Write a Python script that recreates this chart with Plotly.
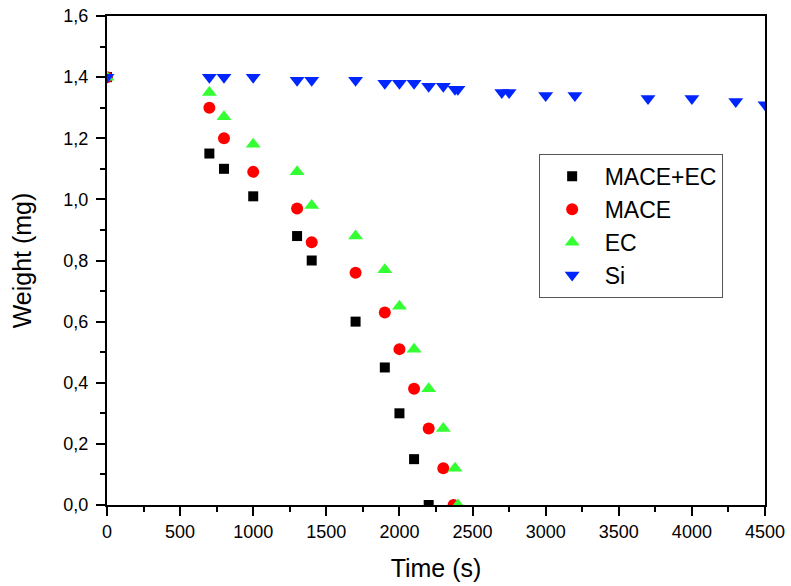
import plotly.graph_objects as go

# Weight loss over time for four sample types
mace_ec_t = [0, 700, 800, 1000, 1300, 1400, 1700, 1900, 2000, 2100, 2200]
mace_ec_w = [1.40, 1.15, 1.10, 1.01, 0.88, 0.80, 0.60, 0.45, 0.30, 0.15, 0.00]

mace_t = [0, 700, 800, 1000, 1300, 1400, 1700, 1900, 2000, 2100, 2200, 2300, 2370]
mace_w = [1.40, 1.30, 1.20, 1.09, 0.97, 0.86, 0.76, 0.63, 0.51, 0.38, 0.25, 0.12, 0.00]

ec_t = [0, 700, 800, 1000, 1300, 1400, 1700, 1900, 2000, 2100, 2200, 2300, 2380, 2400]
ec_w = [1.40, 1.35, 1.27, 1.18, 1.09, 0.98, 0.88, 0.77, 0.65, 0.51, 0.38, 0.25, 0.12, 0.00]

si_t = [0, 700, 800, 1000, 1300, 1400, 1700, 1900, 2000, 2100, 2200, 2300, 2380, 2400,
        2700, 2750, 3000, 3200, 3700, 4000, 4300, 4500]
si_w = [1.40, 1.40, 1.40, 1.40, 1.39, 1.39, 1.39, 1.38, 1.38, 1.38, 1.37, 1.37, 1.36, 1.36,
        1.35, 1.35, 1.34, 1.34, 1.33, 1.33, 1.32, 1.31]

x_ticks = [0, 500, 1000, 1500, 2000, 2500, 3000, 3500, 4000, 4500]
y_ticks = [0.0, 0.2, 0.4, 0.6, 0.8, 1.0, 1.2, 1.4, 1.6]

series = [
    ("MACE+EC", mace_ec_t, mace_ec_w, "square", "#000000", 10),
    ("MACE", mace_t, mace_w, "circle", "#FF0000", 12),
    ("EC", ec_t, ec_w, "triangle-up", "#33FF33", 13),
    ("Si", si_t, si_w, "triangle-down", "#0026FF", 13),
]

FONT = "Liberation Sans, Arial, sans-serif"

fig = go.Figure()
for name, t, w, sym, col, sz in series:
    fig.add_trace(go.Scatter(
        x=t, y=w, mode="markers", name=name,
        marker=dict(symbol=sym, color=col, size=sz, line=dict(width=0)),
    ))

axis_common = dict(
    showline=True, linecolor="black", linewidth=2, mirror=True,
    ticks="outside", ticklen=9, tickwidth=2, tickcolor="black",
    showgrid=False, zeroline=False,
    tickfont=dict(family=FONT, size=18, color="black"),
)
minor_common = dict(ticks="outside", ticklen=5, tickwidth=2, tickcolor="black", showgrid=False)

fig.update_xaxes(
    range=[0, 4500], tickvals=x_ticks,
    minor=dict(dtick=250, **minor_common),
    title=dict(text="Time (s)", font=dict(family=FONT, size=25, color="black"), standoff=19),
    **axis_common,
)
fig.update_yaxes(
    range=[0, 1.6], tickvals=y_ticks, tickformat=".1f",
    ticklabelstandoff=4,
    minor=dict(dtick=0.1, **minor_common),
    title=dict(text="Weight (mg)", font=dict(family=FONT, size=25, color="black"), standoff=25),
    **axis_common,
)

fig.update_layout(
    width=791, height=586,
    margin=dict(l=107, r=26, t=16, b=81, autoexpand=False),
    paper_bgcolor="white", plot_bgcolor="white",
    separators=",.",
    showlegend=True,
    legend=dict(
        x=0.656, y=0.718, xanchor="left", yanchor="top",
        bordercolor="#555555", borderwidth=1, bgcolor="white",
        font=dict(family=FONT, size=23, color="black"),
        itemwidth=55, tracegroupgap=0,
    ),
)

fig.write_html("out.html")
